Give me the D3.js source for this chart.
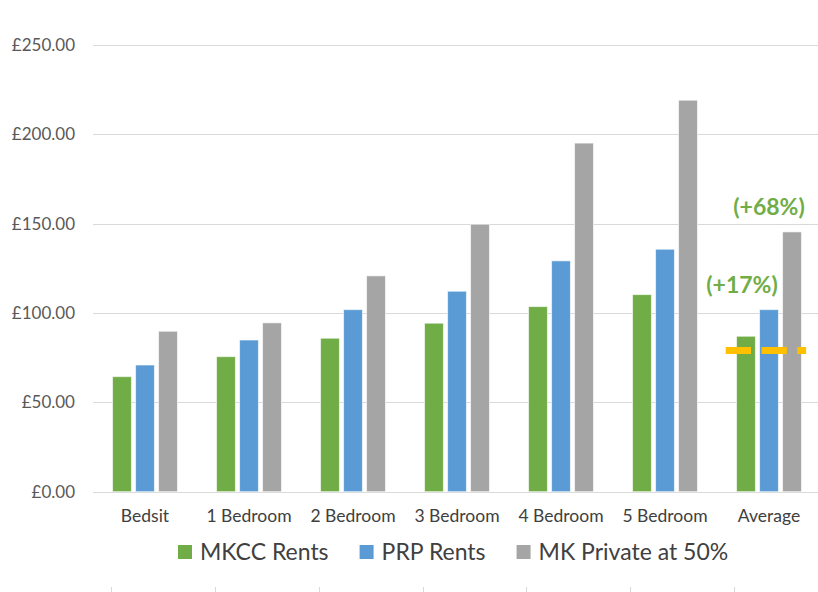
<!DOCTYPE html>
<html>
<head>
<meta charset="utf-8">
<script src="https://cdn.jsdelivr.net/npm/d3@7"></script>
<style>
  html, body { margin: 0; padding: 0; background: #fff; }
  svg { display: block; font-family: Lato, "Open Sans", sans-serif; }
</style>
</head>
<body>
<svg id="chart" width="818" height="592"></svg>
<script>
// Weekly rents by property size
const categories = ["Bedsit", "1 Bedroom", "2 Bedroom", "3 Bedroom", "4 Bedroom", "5 Bedroom", "Average"];
const seriesNames = ["MKCC Rents", "PRP Rents", "MK Private at 50%"];
const mkccRents    = [64.4, 75.6, 85.9, 94.3, 103.6, 110.3, 87.0];
const prpRents     = [70.9, 84.9, 101.9, 112.2, 129.2, 135.7, 101.9];
const mkPrivate50  = [89.8, 94.5, 120.8, 149.7, 195.1, 219.1, 145.4];
const yTicks = [0, 50, 100, 150, 200, 250];
const benchmarkValue = 79;          // dashed reference on the Average group
const uplifts = ["(+17%)", "(+68%)"]; // PRP and private vs MKCC average

const seriesColors = ["#70AD47", "#5B9BD5", "#A5A5A5"];
const seriesValues = [mkccRents, prpRents, mkPrivate50];

const svg = d3.select("#chart");
const W = 818;

const y = d3.scaleLinear().domain([0, 250]).range([491.7, 45]);
const x = d3.scaleBand().domain(categories).range([93, 821]).padding(0);
const xInner = d3.scaleBand().domain(seriesNames)
  .range([x.bandwidth() * 0.188, x.bandwidth() * 0.812])
  .paddingInner(0.18).paddingOuter(0);

// gridlines
svg.append("g").selectAll("line").data(yTicks).join("line")
  .attr("x1", 93).attr("x2", W)
  .attr("y1", d => Math.round(y(d)) + 0.5).attr("y2", d => Math.round(y(d)) + 0.5)
  .attr("stroke", "#d9d9d9").attr("stroke-width", 1);

// y tick labels
svg.append("g").selectAll("text").data(yTicks).join("text")
  .attr("x", 75).attr("y", d => y(d))
  .attr("dy", "0.36em")
  .attr("text-anchor", "end")
  .attr("font-size", 17).attr("fill", "#595959")
  .text(d => "£" + d3.format(".2f")(d));

// bars
const groups = svg.append("g").selectAll("g").data(categories).join("g")
  .attr("transform", c => `translate(${x(c)},0)`);

groups.selectAll("rect")
  .data((c, i) => seriesNames.map((s, k) => ({ s, v: seriesValues[k][i], color: seriesColors[k] })))
  .join("rect")
  .attr("x", d => xInner(d.s))
  .attr("width", xInner.bandwidth())
  .attr("y", d => y(d.v))
  .attr("height", d => y(0) - y(d.v))
  .attr("fill", d => d.color)
  .attr("stroke", "#ffffff").attr("stroke-opacity", 0.6).attr("stroke-width", 1);

// category labels
svg.append("g").selectAll("text").data(categories).join("text")
  .attr("x", c => x(c) + x.bandwidth() / 2)
  .attr("y", 516)
  .attr("dy", "0.36em")
  .attr("text-anchor", "middle")
  .attr("font-size", 17.5).attr("fill", "#404040")
  .text(c => c);

// benchmark dashed line across the Average group
const avg = "Average";
svg.append("line")
  .attr("x1", x(avg) + x.bandwidth() * 0.084)
  .attr("x2", x(avg) + x.bandwidth() * 0.857)
  .attr("y1", y(benchmarkValue)).attr("y2", y(benchmarkValue))
  .attr("stroke", "#FFC000").attr("stroke-width", 7)
  .attr("stroke-dasharray", "25.3,10.5");

// uplift labels above the Average bars
const avgIdx = categories.indexOf(avg);
svg.append("text")
  .attr("x", x(avg) + xInner(seriesNames[1]) + xInner.bandwidth() / 2 - 27)
  .attr("y", y(prpRents[avgIdx]) - 16.5)
  .attr("text-anchor", "middle")
  .attr("font-size", 23).attr("font-weight", "bold").attr("fill", "#70AD47")
  .text(uplifts[0]);
svg.append("text")
  .attr("x", x(avg) + xInner(seriesNames[2]) + xInner.bandwidth() / 2 - 23)
  .attr("y", y(mkPrivate50[avgIdx]) - 17)
  .attr("text-anchor", "middle")
  .attr("font-size", 23).attr("font-weight", "bold").attr("fill", "#70AD47")
  .text(uplifts[1]);

// legend
const legend = svg.append("g").attr("transform", "translate(178,0)");
let lx = 0;
seriesNames.forEach((name, k) => {
  const item = legend.append("g").attr("transform", `translate(${lx},0)`);
  item.append("rect").attr("x", 0).attr("y", 545).attr("width", 14).attr("height", 14)
    .attr("fill", seriesColors[k]);
  const t = item.append("text").attr("x", 22).attr("y", 552).attr("dy", "0.36em")
    .attr("font-size", 23).attr("fill", "#404040").text(name);
  lx += 22 + t.node().getComputedTextLength() + 31;
});

// tick marks of the lower axis strip along the bottom edge
const xLower = d3.scaleBand().domain(categories).range([111, 838]);
svg.append("g").selectAll("line").data(categories).join("line")
  .attr("x1", c => Math.round(xLower(c)) + 0.5).attr("x2", c => Math.round(xLower(c)) + 0.5)
  .attr("y1", 587).attr("y2", 592)
  .attr("stroke", "#d9d9d9").attr("stroke-width", 1);
</script>
</body>
</html>
